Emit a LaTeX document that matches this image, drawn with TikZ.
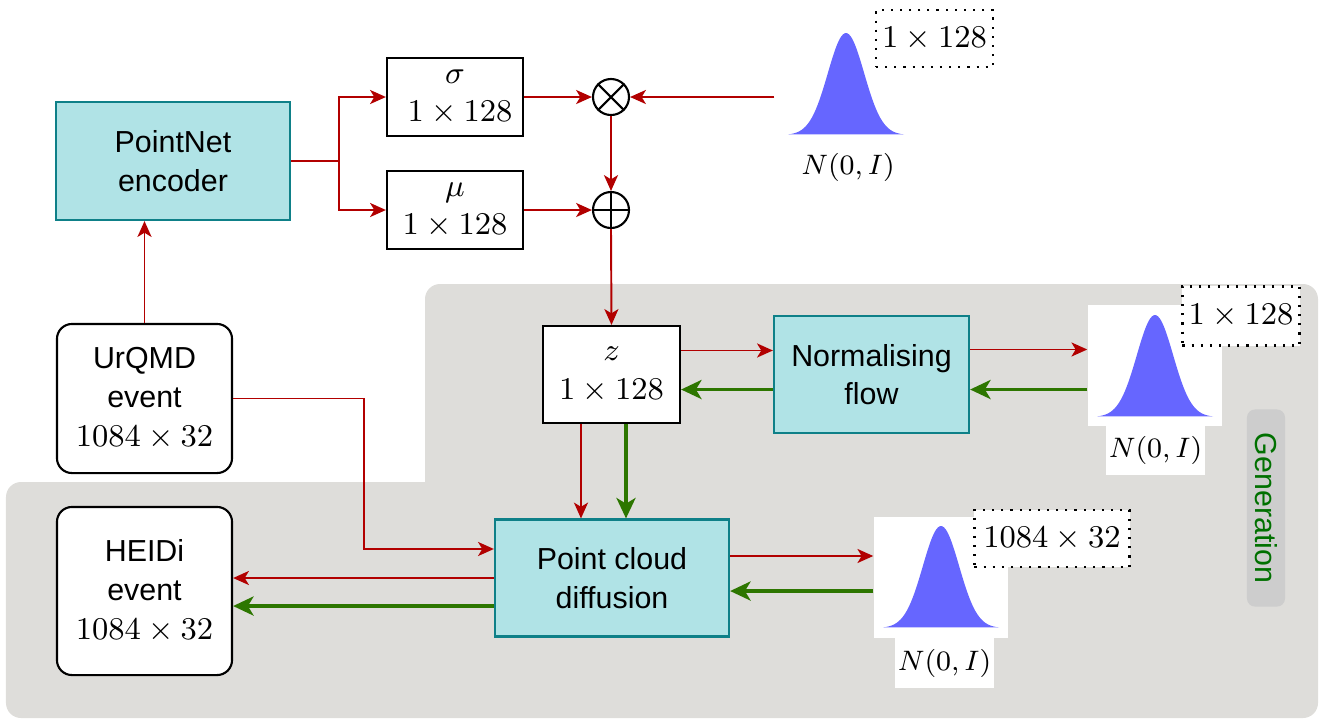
\documentclass[tikz,border=0pt]{standalone}
\usepackage{fontspec}
\setsansfont{Liberation Sans}[Scale=0.96]
\usetikzlibrary{positioning, arrows.meta}
\usepackage{xcolor}
\definecolor{tealfill}{HTML}{B0E3E6}
\definecolor{tealline}{HTML}{0E8088}
\definecolor{redline}{HTML}{B20000}
\definecolor{greenline}{HTML}{2D7600}
\definecolor{genbg}{HTML}{DEDDDA}
\definecolor{genlabel}{HTML}{CDCDCD}
\definecolor{gentext}{HTML}{007000}
\definecolor{gaussblue}{HTML}{6666FF}

\tikzset{block/.style={rectangle, draw=tealline, fill=tealfill, line width=0.6pt,
                       inner sep=0pt, align=center, font=\fontsize{9}{11}\selectfont\sffamily},
         varbox/.style={rectangle, draw, fill=white, line width=0.6pt, inner sep=0pt, align=center},
         eventbox/.style={rectangle, rounded corners=0.15cm, draw, fill=white, line width=0.6pt,
                       inner sep=0pt, align=center, font=\fontsize{9}{11}\selectfont\sffamily},
         dimbox/.style={rectangle, draw, dotted, fill=white, line width=0.6pt, inner sep=0pt},
         noiselabel/.style={inner sep=0pt, font=\fontsize{7.6}{9}\selectfont},
         fwd/.style={draw=redline, line width=0.55pt, -{Stealth[length=4.5pt, width=4pt, inset=1.2pt]}},
         bwd/.style={draw=greenline, line width=1.1pt, -{Stealth[length=5.8pt, width=5.4pt, inset=1.6pt]}}}

% base centre of a normal curve
\newcommand{\normalcurve}[2]{%
  \fill[gaussblue] plot[domain=-58:58, samples=60, smooth] ({#1+\x}, {#2-102*exp(-(\x*\x)/660)}) -- cycle;}

\begin{document}
\begin{tikzpicture}[x=0.01cm, y=-0.01cm, every node/.append style={font=\fontsize{9}{11}\selectfont}]
        \useasboundingbox (0,0) rectangle (1326,720);

        % Generation area
        \fill[genbg] (425,482) [rounded corners=0.15cm] -- (425,284) -- (1318,284) -- (1318,718)
            -- (6,718) -- (6,482) [sharp corners] -- cycle;
        \node[rotate=-90, fill=genlabel, rounded corners=0.08cm, minimum width=1.97cm,
              minimum height=0.38cm, inner sep=0pt, text=gentext, font=\fontsize{9}{11}\selectfont\sffamily]
              (gen) at (1266,508) {Generation};

        % Nodes
        \node[block, minimum width=2.34cm, minimum height=1.18cm] (enc) at (173,161) {PointNet\\encoder};
        \node[varbox, minimum width=1.36cm, minimum height=0.78cm] (sig) at (455,97) {$\sigma$\\ \hspace{0.1cm}$1\times128$};
        \node[varbox, minimum width=1.36cm, minimum height=0.78cm] (mu) at (455,210) {$\mu$\\$1\times128$};
        \node[circle, draw, line width=0.6pt, minimum size=0.36cm, inner sep=0pt] (mult) at (611,97) {};
        \node[circle, draw, line width=0.6pt, minimum size=0.36cm, inner sep=0pt] (add) at (611,210) {};
        \draw[line width=0.6pt] (mult.north west) -- (mult.south east) (mult.north east) -- (mult.south west);
        \draw[line width=0.6pt] (add.north) -- (add.south) (add.west) -- (add.east);

        \node[varbox, minimum width=1.37cm, minimum height=0.97cm] (zbox) at (611.5,374.5) {$z$\\$1\times128$};
        \node[block, minimum width=1.95cm, minimum height=1.17cm] (nf) at (871.5,374.5) {Normalising\\flow};
        \node[block, minimum width=2.34cm, minimum height=1.17cm] (pcd) at (612,578) {Point cloud\\diffusion};

        \node[eventbox, minimum width=1.75cm, minimum height=1.49cm] (urqmd) at (144.5,398.5) {UrQMD\\event\\$1084\times32$};
        \node[eventbox, minimum width=1.75cm, minimum height=1.68cm] (heidi) at (144.5,591) {HEIDi\\event\\$1084\times32$};

        % Noise
        \node[minimum width=1.42cm, minimum height=1.02cm, inner sep=0pt] (g1) at (846,97) {};
        \normalcurve{846}{135}
        \node[noiselabel] (n1) at (848,167) {$N(0,I)$};
        \node[dimbox, minimum width=1.17cm, minimum height=0.57cm] (d1) at (934.5,38.5) {$1\times128$};

        \node[fill=white, minimum width=1.34cm, minimum height=1.21cm, inner sep=0pt] (g2) at (1155,365.5) {};
        \node[noiselabel, fill=white, minimum width=0.99cm, minimum height=0.49cm] (n2) at (1155.5,450.5) {$N(0,I)$};
        \normalcurve{1155}{417}
        \node[dimbox, minimum width=1.17cm, minimum height=0.59cm] (d2) at (1241,316) {$1\times128$};

        \node[fill=white, minimum width=1.34cm, minimum height=1.21cm, inner sep=0pt] (g3) at (941,577.5) {};
        \node[noiselabel, fill=white, minimum width=0.99cm, minimum height=0.50cm] (n3) at (944.5,663) {$N(0,I)$};
        \normalcurve{941}{628}
        \node[dimbox, minimum width=1.55cm, minimum height=0.57cm] (d3) at (1052,538.5) {$1084\times32$};

        % Edges
        \draw[fwd] (urqmd.north) -- (urqmd.north |- enc.south);
        \draw[fwd] (enc.east) -- ++(48,0) |- (sig.west);
        \draw[fwd] (enc.east) -- ++(48,0) |- (mu.west);
        \draw[fwd] (sig.east) -- (mult.west);
        \draw[fwd] (g1.west) -- (mult.east);
        \draw[fwd] (mult.south) -- (add.north);
        \draw[fwd] (mu.east) -- (add.west);
        \draw[fwd] (add.south) -- (zbox.north);
        \draw[fwd] ([yshift=0.24cm]zbox.east) -- ([yshift=0.24cm]nf.west);
        \draw[bwd] ([yshift=-0.15cm]nf.west) -- ([yshift=-0.15cm]zbox.east);
        \draw[fwd] ([yshift=0.25cm]nf.east) -- ([yshift=0.25cm]nf.east -| g2.west);
        \draw[bwd] ([yshift=-0.15cm]nf.east -| g2.west) -- ([yshift=-0.15cm]nf.east);
        \draw[fwd] ([xshift=-0.305cm]zbox.south) -- ([xshift=-0.305cm]zbox.south |- pcd.north);
        \draw[bwd] ([xshift=0.145cm]zbox.south) -- ([xshift=0.145cm]zbox.south |- pcd.north);
        \draw[fwd] (urqmd.east) -- ++(131,0) |- ([yshift=0.29cm]pcd.west);
        \draw[fwd] (pcd.west) -- (pcd.west -| heidi.east);
        \draw[bwd] ([yshift=-0.28cm]pcd.west) -- ([yshift=-0.28cm]pcd.west -| heidi.east);
        \draw[fwd] ([yshift=0.22cm]pcd.east) -- ([yshift=0.22cm]pcd.east -| g3.west);
        \draw[bwd] ([yshift=-0.13cm]pcd.east -| g3.west) -- ([yshift=-0.13cm]pcd.east);
    \end{tikzpicture}
\end{document}
